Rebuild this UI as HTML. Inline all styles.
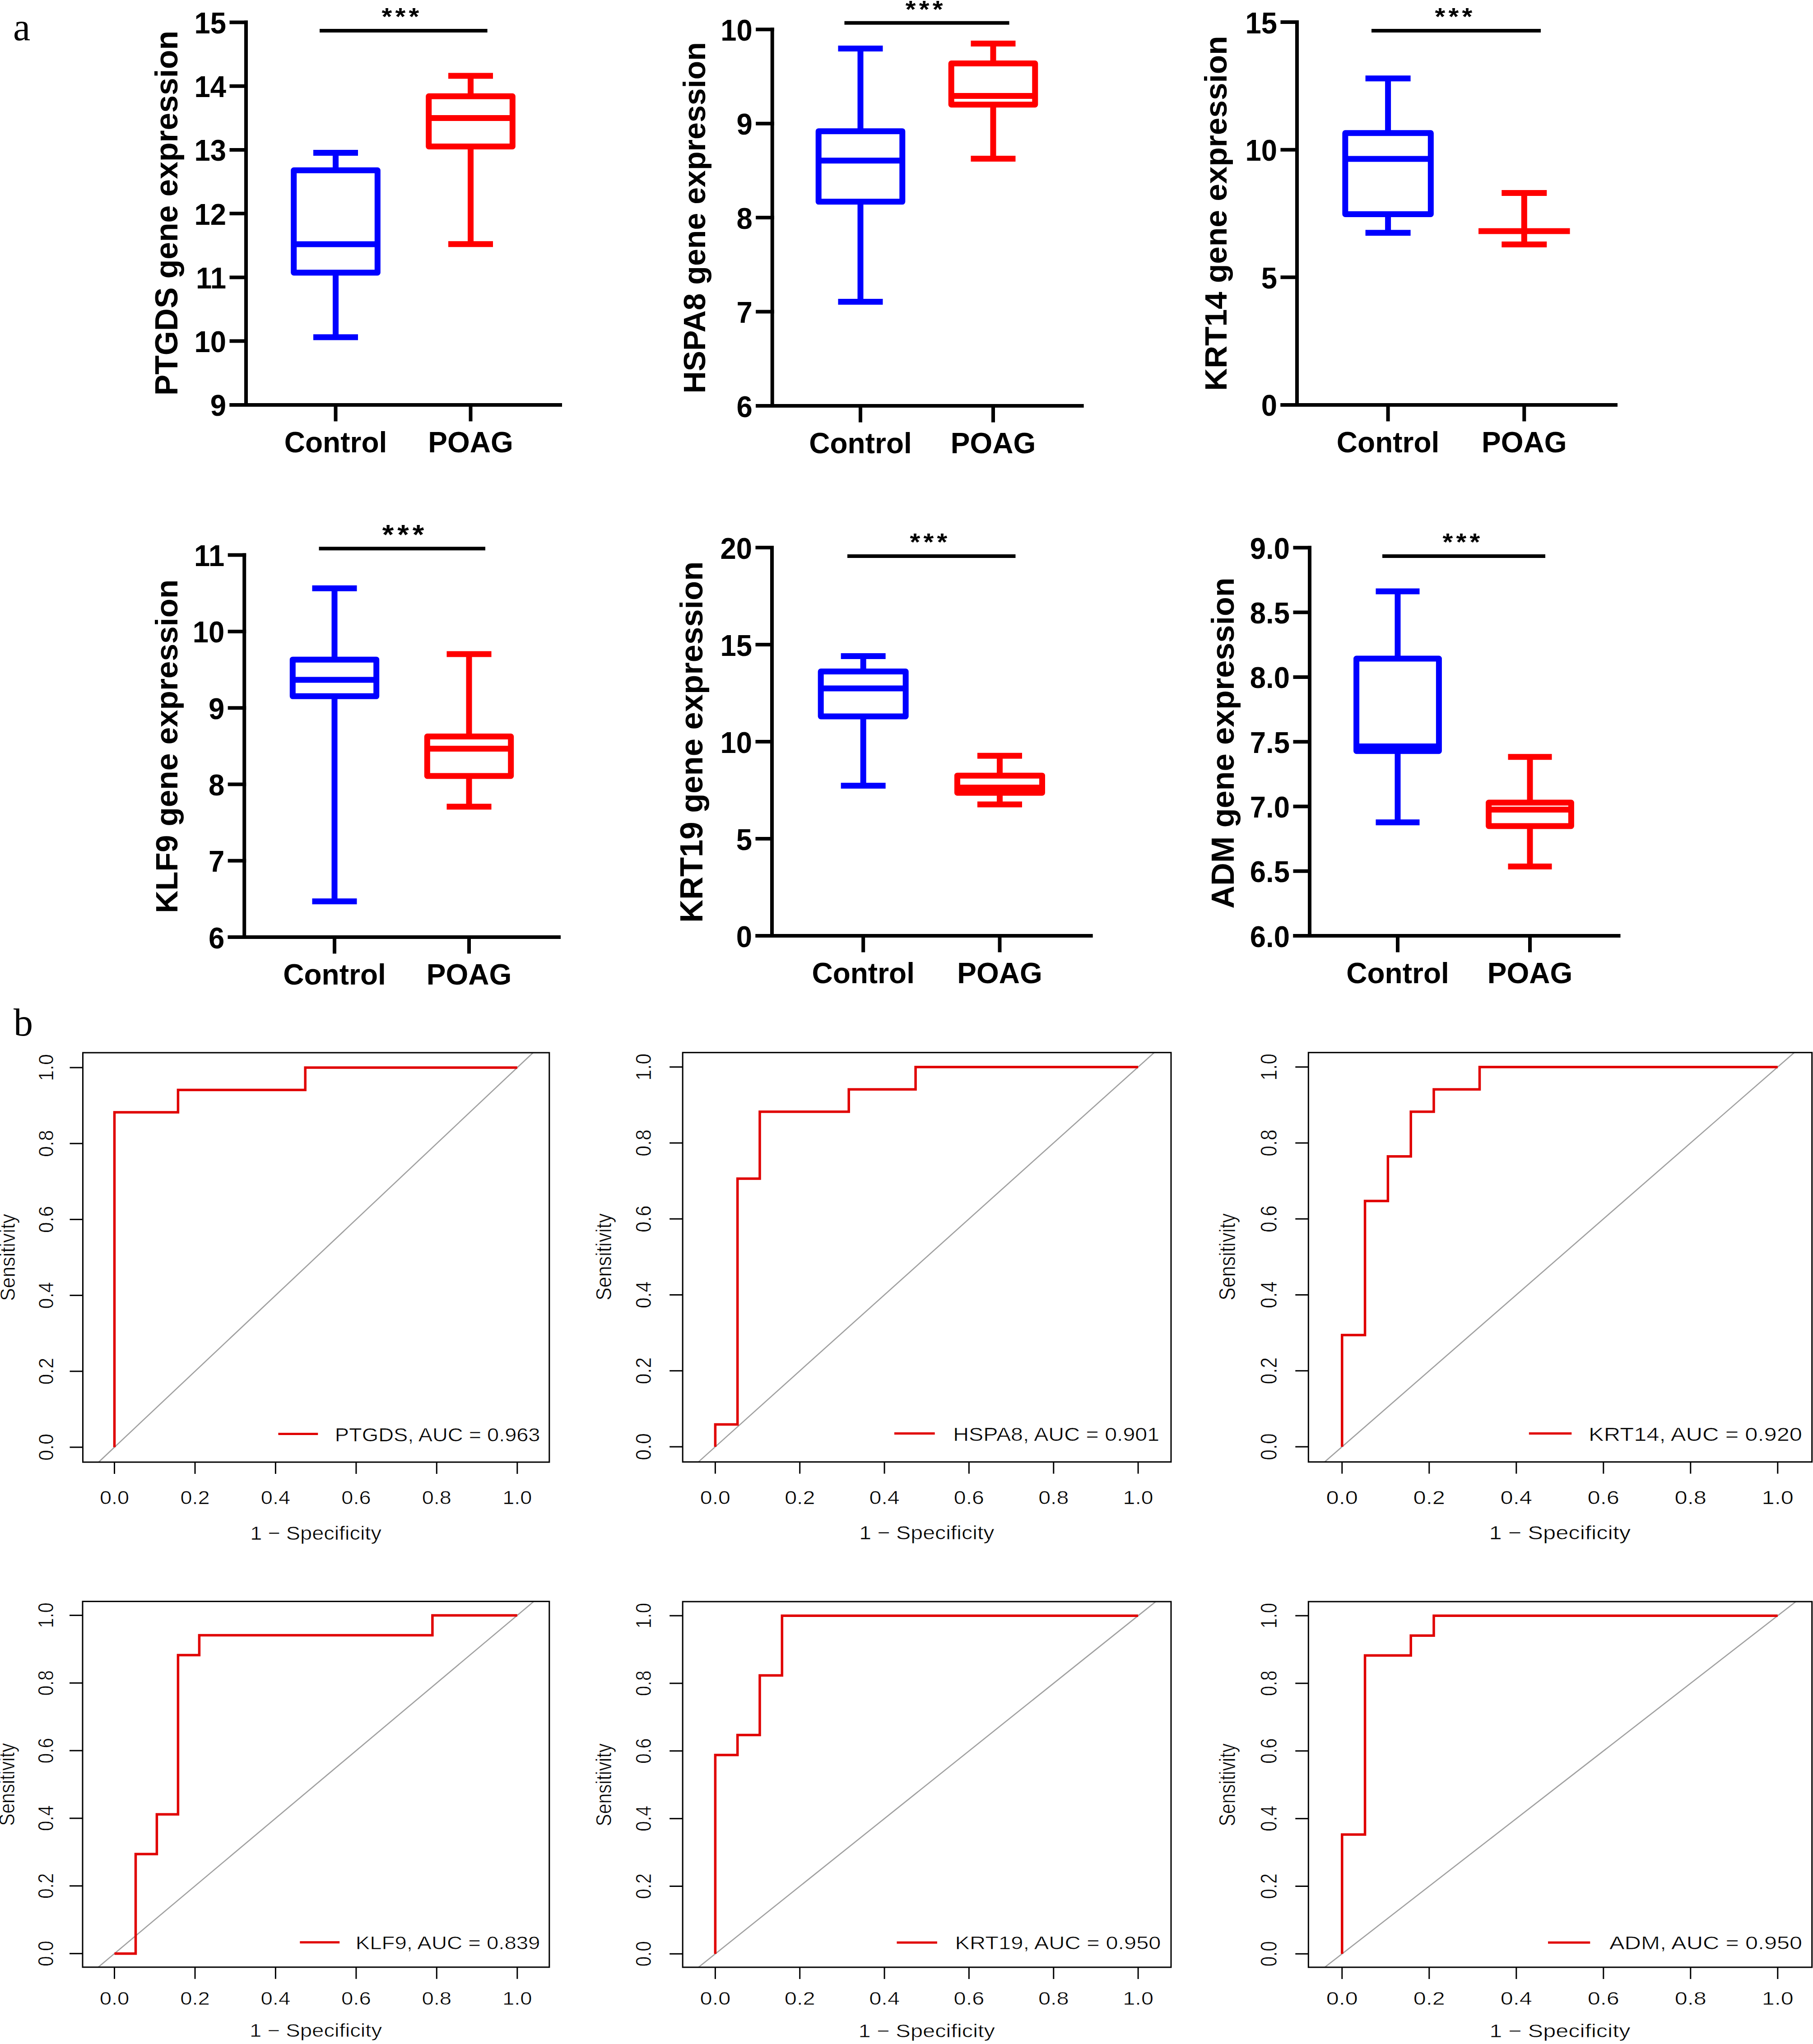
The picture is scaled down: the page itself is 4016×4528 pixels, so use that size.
<!DOCTYPE html><html><head><meta charset="utf-8"><style>html,body{margin:0;padding:0;background:#fff;width:4016px;height:4528px;overflow:hidden}svg{display:block}</style></head><body>
<svg width="4016" height="4528" viewBox="0 0 4016 4528" font-family='"Liberation Sans", sans-serif'>
<style>.rt{stroke:#fff;stroke-width:0.6px}</style>
<rect width="4016" height="4528" fill="#fff"/>
<text x="29" y="89" font-family='"Liberation Serif", serif' font-size="86">a</text>
<text x="30" y="2294" font-family='"Liberation Serif", serif' font-size="86">b</text>
<line x1="545" y1="45.4" x2="545" y2="900.9" stroke="#000" stroke-width="8"/>
<line x1="508.5" y1="896.9" x2="1245" y2="896.9" stroke="#000" stroke-width="8"/>
<line x1="508.5" y1="49.4" x2="549.0" y2="49.4" stroke="#000" stroke-width="8"/>
<text transform="translate(501,73.9) scale(0.94,1)" text-anchor="end" font-size="67.5" font-weight="bold">15</text>
<line x1="508.5" y1="190.7" x2="549.0" y2="190.7" stroke="#000" stroke-width="8"/>
<text transform="translate(501,215.2) scale(0.94,1)" text-anchor="end" font-size="67.5" font-weight="bold">14</text>
<line x1="508.5" y1="331.9" x2="549.0" y2="331.9" stroke="#000" stroke-width="8"/>
<text transform="translate(501,356.4) scale(0.94,1)" text-anchor="end" font-size="67.5" font-weight="bold">13</text>
<line x1="508.5" y1="473.1" x2="549.0" y2="473.1" stroke="#000" stroke-width="8"/>
<text transform="translate(501,497.6) scale(0.94,1)" text-anchor="end" font-size="67.5" font-weight="bold">12</text>
<line x1="508.5" y1="614.4" x2="549.0" y2="614.4" stroke="#000" stroke-width="8"/>
<text transform="translate(501,638.9) scale(0.94,1)" text-anchor="end" font-size="67.5" font-weight="bold">11</text>
<line x1="508.5" y1="755.6" x2="549.0" y2="755.6" stroke="#000" stroke-width="8"/>
<text transform="translate(501,780.1) scale(0.94,1)" text-anchor="end" font-size="67.5" font-weight="bold">10</text>
<line x1="508.5" y1="896.9" x2="549.0" y2="896.9" stroke="#000" stroke-width="8"/>
<text transform="translate(501,921.4) scale(0.94,1)" text-anchor="end" font-size="67.5" font-weight="bold">9</text>
<line x1="743.5" y1="896.9" x2="743.5" y2="933.4" stroke="#000" stroke-width="8"/>
<text x="743.5" y="1001.9" text-anchor="middle" font-size="64" font-weight="bold">Control</text>
<line x1="1042.5" y1="896.9" x2="1042.5" y2="933.4" stroke="#000" stroke-width="8"/>
<text x="1042.5" y="1001.9" text-anchor="middle" font-size="64" font-weight="bold">POAG</text>
<text transform="translate(392.8,472.1) rotate(-90)" text-anchor="middle" font-size="69.6" font-weight="bold">PTGDS gene expression</text>
<line x1="708" y1="67.9" x2="1079.6" y2="67.9" stroke="#000" stroke-width="8"/>
<text transform="translate(857.0,55.2) scale(0.760,0.700)" text-anchor="middle" font-size="77" font-weight="bold">*</text>
<text transform="translate(887.0,55.2) scale(0.760,0.700)" text-anchor="middle" font-size="77" font-weight="bold">*</text>
<text transform="translate(917.0,55.2) scale(0.760,0.700)" text-anchor="middle" font-size="77" font-weight="bold">*</text>
<g stroke="#0000ff" stroke-width="13" fill="none">
<line x1="694.0" y1="338.5" x2="793.0" y2="338.5"/>
<line x1="694.0" y1="747" x2="793.0" y2="747"/>
<line x1="743.5" y1="338.5" x2="743.5" y2="377.3"/>
<line x1="743.5" y1="604" x2="743.5" y2="747"/>
<rect x="650.7" y="377.3" width="185.5999999999999" height="226.7" stroke-linejoin="round"/>
<line x1="650.7" y1="541" x2="836.3" y2="541"/>
</g>
<g stroke="#ff0000" stroke-width="13" fill="none">
<line x1="993.0" y1="168" x2="1092.0" y2="168"/>
<line x1="993.0" y1="540.7" x2="1092.0" y2="540.7"/>
<line x1="1042.5" y1="168" x2="1042.5" y2="213.3"/>
<line x1="1042.5" y1="324.5" x2="1042.5" y2="540.7"/>
<rect x="949.7" y="213.3" width="185.5999999999999" height="111.2" stroke-linejoin="round"/>
<line x1="949.7" y1="261.5" x2="1135.3" y2="261.5"/>
</g>
<line x1="1710.7" y1="61.2" x2="1710.7" y2="903.1" stroke="#000" stroke-width="8"/>
<line x1="1674.2" y1="899.1" x2="2400.7" y2="899.1" stroke="#000" stroke-width="8"/>
<line x1="1674.2" y1="65.2" x2="1714.7" y2="65.2" stroke="#000" stroke-width="8"/>
<text transform="translate(1666.7,89.7) scale(0.94,1)" text-anchor="end" font-size="67.5" font-weight="bold">10</text>
<line x1="1674.2" y1="273.7" x2="1714.7" y2="273.7" stroke="#000" stroke-width="8"/>
<text transform="translate(1666.7,298.2) scale(0.94,1)" text-anchor="end" font-size="67.5" font-weight="bold">9</text>
<line x1="1674.2" y1="482.1" x2="1714.7" y2="482.1" stroke="#000" stroke-width="8"/>
<text transform="translate(1666.7,506.6) scale(0.94,1)" text-anchor="end" font-size="67.5" font-weight="bold">8</text>
<line x1="1674.2" y1="690.6" x2="1714.7" y2="690.6" stroke="#000" stroke-width="8"/>
<text transform="translate(1666.7,715.1) scale(0.94,1)" text-anchor="end" font-size="67.5" font-weight="bold">7</text>
<line x1="1674.2" y1="899.1" x2="1714.7" y2="899.1" stroke="#000" stroke-width="8"/>
<text transform="translate(1666.7,923.6) scale(0.94,1)" text-anchor="end" font-size="67.5" font-weight="bold">6</text>
<line x1="1906" y1="899.1" x2="1906" y2="935.6" stroke="#000" stroke-width="8"/>
<text x="1906" y="1004.1" text-anchor="middle" font-size="64" font-weight="bold">Control</text>
<line x1="2200" y1="899.1" x2="2200" y2="935.6" stroke="#000" stroke-width="8"/>
<text x="2200" y="1004.1" text-anchor="middle" font-size="64" font-weight="bold">POAG</text>
<text transform="translate(1561.7,482.4) rotate(-90)" text-anchor="middle" font-size="68.1" font-weight="bold">HSPA8 gene expression</text>
<line x1="1870.5" y1="50.7" x2="2235.6" y2="50.7" stroke="#000" stroke-width="8"/>
<text transform="translate(2017.2,39.0) scale(0.760,0.700)" text-anchor="middle" font-size="77" font-weight="bold">*</text>
<text transform="translate(2047.2,39.0) scale(0.760,0.700)" text-anchor="middle" font-size="77" font-weight="bold">*</text>
<text transform="translate(2077.2,39.0) scale(0.760,0.700)" text-anchor="middle" font-size="77" font-weight="bold">*</text>
<g stroke="#0000ff" stroke-width="13" fill="none">
<line x1="1856.5" y1="107.6" x2="1955.5" y2="107.6"/>
<line x1="1856.5" y1="668.5" x2="1955.5" y2="668.5"/>
<line x1="1906" y1="107.6" x2="1906" y2="290.7"/>
<line x1="1906" y1="446.8" x2="1906" y2="668.5"/>
<rect x="1813.2" y="290.7" width="185.5999999999999" height="156.1" stroke-linejoin="round"/>
<line x1="1813.2" y1="355.8" x2="1998.8" y2="355.8"/>
</g>
<g stroke="#ff0000" stroke-width="13" fill="none">
<line x1="2150.5" y1="96.5" x2="2249.5" y2="96.5"/>
<line x1="2150.5" y1="351.4" x2="2249.5" y2="351.4"/>
<line x1="2200" y1="96.5" x2="2200" y2="140.6"/>
<line x1="2200" y1="231.7" x2="2200" y2="351.4"/>
<rect x="2107.2" y="140.6" width="185.60000000000036" height="91.1" stroke-linejoin="round"/>
<line x1="2107.2" y1="212.4" x2="2292.8" y2="212.4"/>
</g>
<line x1="2873" y1="45.1" x2="2873" y2="900.9" stroke="#000" stroke-width="8"/>
<line x1="2836.5" y1="896.9" x2="3583" y2="896.9" stroke="#000" stroke-width="8"/>
<line x1="2836.5" y1="49.1" x2="2877.0" y2="49.1" stroke="#000" stroke-width="8"/>
<text transform="translate(2829,73.6) scale(0.94,1)" text-anchor="end" font-size="67.5" font-weight="bold">15</text>
<line x1="2836.5" y1="331.7" x2="2877.0" y2="331.7" stroke="#000" stroke-width="8"/>
<text transform="translate(2829,356.2) scale(0.94,1)" text-anchor="end" font-size="67.5" font-weight="bold">10</text>
<line x1="2836.5" y1="614.3" x2="2877.0" y2="614.3" stroke="#000" stroke-width="8"/>
<text transform="translate(2829,638.8) scale(0.94,1)" text-anchor="end" font-size="67.5" font-weight="bold">5</text>
<line x1="2836.5" y1="896.9" x2="2877.0" y2="896.9" stroke="#000" stroke-width="8"/>
<text transform="translate(2829,921.4) scale(0.94,1)" text-anchor="end" font-size="67.5" font-weight="bold">0</text>
<line x1="3074.6" y1="896.9" x2="3074.6" y2="933.4" stroke="#000" stroke-width="8"/>
<text x="3074.6" y="1001.9" text-anchor="middle" font-size="64" font-weight="bold">Control</text>
<line x1="3376.3" y1="896.9" x2="3376.3" y2="933.4" stroke="#000" stroke-width="8"/>
<text x="3376.3" y="1001.9" text-anchor="middle" font-size="64" font-weight="bold">POAG</text>
<text transform="translate(2717.3,472.75) rotate(-90)" text-anchor="middle" font-size="69.4" font-weight="bold">KRT14 gene expression</text>
<line x1="3038" y1="68" x2="3413" y2="68" stroke="#000" stroke-width="8"/>
<text transform="translate(3189.9,55.2) scale(0.760,0.700)" text-anchor="middle" font-size="77" font-weight="bold">*</text>
<text transform="translate(3219.9,55.2) scale(0.760,0.700)" text-anchor="middle" font-size="77" font-weight="bold">*</text>
<text transform="translate(3249.9,55.2) scale(0.760,0.700)" text-anchor="middle" font-size="77" font-weight="bold">*</text>
<g stroke="#0000ff" stroke-width="13" fill="none">
<line x1="3024.6" y1="173.7" x2="3124.6" y2="173.7"/>
<line x1="3024.6" y1="515.7" x2="3124.6" y2="515.7"/>
<line x1="3074.6" y1="173.7" x2="3074.6" y2="294.8"/>
<line x1="3074.6" y1="474.4" x2="3074.6" y2="515.7"/>
<rect x="2979.85" y="294.8" width="189.5" height="179.6" stroke-linejoin="round"/>
<line x1="2979.85" y1="352" x2="3169.35" y2="352"/>
</g>
<g stroke="#ff0000" stroke-width="13" fill="none">
<line x1="3326.3" y1="427.5" x2="3426.3" y2="427.5"/>
<line x1="3326.3" y1="541.6" x2="3426.3" y2="541.6"/>
<line x1="3376.3" y1="427.5" x2="3376.3" y2="512"/>
<line x1="3376.3" y1="512" x2="3376.3" y2="541.6"/>
<line x1="3275.05" y1="512" x2="3477.55" y2="512"/>
</g>
<line x1="541.2" y1="1225.6" x2="541.2" y2="2080.0" stroke="#000" stroke-width="8"/>
<line x1="504.70000000000005" y1="2076" x2="1242" y2="2076" stroke="#000" stroke-width="8"/>
<line x1="504.70000000000005" y1="1229.6" x2="545.2" y2="1229.6" stroke="#000" stroke-width="8"/>
<text transform="translate(497.20000000000005,1254.1) scale(0.94,1)" text-anchor="end" font-size="67.5" font-weight="bold">11</text>
<line x1="504.70000000000005" y1="1398.9" x2="545.2" y2="1398.9" stroke="#000" stroke-width="8"/>
<text transform="translate(497.20000000000005,1423.4) scale(0.94,1)" text-anchor="end" font-size="67.5" font-weight="bold">10</text>
<line x1="504.70000000000005" y1="1568.2" x2="545.2" y2="1568.2" stroke="#000" stroke-width="8"/>
<text transform="translate(497.20000000000005,1592.7) scale(0.94,1)" text-anchor="end" font-size="67.5" font-weight="bold">9</text>
<line x1="504.70000000000005" y1="1737.4" x2="545.2" y2="1737.4" stroke="#000" stroke-width="8"/>
<text transform="translate(497.20000000000005,1761.9) scale(0.94,1)" text-anchor="end" font-size="67.5" font-weight="bold">8</text>
<line x1="504.70000000000005" y1="1906.7" x2="545.2" y2="1906.7" stroke="#000" stroke-width="8"/>
<text transform="translate(497.20000000000005,1931.2) scale(0.94,1)" text-anchor="end" font-size="67.5" font-weight="bold">7</text>
<line x1="504.70000000000005" y1="2076.0" x2="545.2" y2="2076.0" stroke="#000" stroke-width="8"/>
<text transform="translate(497.20000000000005,2100.5) scale(0.94,1)" text-anchor="end" font-size="67.5" font-weight="bold">6</text>
<line x1="741" y1="2076" x2="741" y2="2112.5" stroke="#000" stroke-width="8"/>
<text x="741" y="2181" text-anchor="middle" font-size="64" font-weight="bold">Control</text>
<line x1="1039" y1="2076" x2="1039" y2="2112.5" stroke="#000" stroke-width="8"/>
<text x="1039" y="2181" text-anchor="middle" font-size="64" font-weight="bold">POAG</text>
<text transform="translate(393.4,1653.3) rotate(-90)" text-anchor="middle" font-size="69.3" font-weight="bold">KLF9 gene expression</text>
<line x1="706.5" y1="1215.3" x2="1075" y2="1215.3" stroke="#000" stroke-width="8"/>
<text transform="translate(859.4,1204.9) scale(0.851,0.784)" text-anchor="middle" font-size="77" font-weight="bold">*</text>
<text transform="translate(893.0,1204.9) scale(0.851,0.784)" text-anchor="middle" font-size="77" font-weight="bold">*</text>
<text transform="translate(926.6,1204.9) scale(0.851,0.784)" text-anchor="middle" font-size="77" font-weight="bold">*</text>
<g stroke="#0000ff" stroke-width="13" fill="none">
<line x1="691.5" y1="1303.3" x2="790.5" y2="1303.3"/>
<line x1="691.5" y1="1996.7" x2="790.5" y2="1996.7"/>
<line x1="741" y1="1303.3" x2="741" y2="1461.2"/>
<line x1="741" y1="1542.3" x2="741" y2="1996.7"/>
<rect x="648.3" y="1461.2" width="185.4000000000001" height="81.1" stroke-linejoin="round"/>
<line x1="648.3" y1="1505.9" x2="833.7" y2="1505.9"/>
</g>
<g stroke="#ff0000" stroke-width="13" fill="none">
<line x1="989.5" y1="1448.9" x2="1088.5" y2="1448.9"/>
<line x1="989.5" y1="1787" x2="1088.5" y2="1787"/>
<line x1="1039" y1="1448.9" x2="1039" y2="1631.5"/>
<line x1="1039" y1="1719" x2="1039" y2="1787"/>
<rect x="946.3" y="1631.5" width="185.4000000000001" height="87.5" stroke-linejoin="round"/>
<line x1="946.3" y1="1658.5" x2="1131.7" y2="1658.5"/>
</g>
<line x1="1710" y1="1209.0" x2="1710" y2="2077.0" stroke="#000" stroke-width="8"/>
<line x1="1673.5" y1="2073" x2="2420.7" y2="2073" stroke="#000" stroke-width="8"/>
<line x1="1673.5" y1="1213.0" x2="1714.0" y2="1213.0" stroke="#000" stroke-width="8"/>
<text transform="translate(1666,1237.5) scale(0.94,1)" text-anchor="end" font-size="67.5" font-weight="bold">20</text>
<line x1="1673.5" y1="1428.0" x2="1714.0" y2="1428.0" stroke="#000" stroke-width="8"/>
<text transform="translate(1666,1452.5) scale(0.94,1)" text-anchor="end" font-size="67.5" font-weight="bold">15</text>
<line x1="1673.5" y1="1643.0" x2="1714.0" y2="1643.0" stroke="#000" stroke-width="8"/>
<text transform="translate(1666,1667.5) scale(0.94,1)" text-anchor="end" font-size="67.5" font-weight="bold">10</text>
<line x1="1673.5" y1="1858.0" x2="1714.0" y2="1858.0" stroke="#000" stroke-width="8"/>
<text transform="translate(1666,1882.5) scale(0.94,1)" text-anchor="end" font-size="67.5" font-weight="bold">5</text>
<line x1="1673.5" y1="2073.0" x2="1714.0" y2="2073.0" stroke="#000" stroke-width="8"/>
<text transform="translate(1666,2097.5) scale(0.94,1)" text-anchor="end" font-size="67.5" font-weight="bold">0</text>
<line x1="1912.2" y1="2073" x2="1912.2" y2="2109.5" stroke="#000" stroke-width="8"/>
<text x="1912.2" y="2178" text-anchor="middle" font-size="64" font-weight="bold">Control</text>
<line x1="2214.5" y1="2073" x2="2214.5" y2="2109.5" stroke="#000" stroke-width="8"/>
<text x="2214.5" y="2178" text-anchor="middle" font-size="64" font-weight="bold">POAG</text>
<text transform="translate(1556.2,1643.9) rotate(-90)" text-anchor="middle" font-size="70.6" font-weight="bold">KRT19 gene expression</text>
<line x1="1877" y1="1232" x2="2249.5" y2="1232" stroke="#000" stroke-width="8"/>
<text transform="translate(2027.0,1218.7) scale(0.760,0.700)" text-anchor="middle" font-size="77" font-weight="bold">*</text>
<text transform="translate(2057.0,1218.7) scale(0.760,0.700)" text-anchor="middle" font-size="77" font-weight="bold">*</text>
<text transform="translate(2087.0,1218.7) scale(0.760,0.700)" text-anchor="middle" font-size="77" font-weight="bold">*</text>
<g stroke="#0000ff" stroke-width="13" fill="none">
<line x1="1862.7" y1="1453.4" x2="1961.7" y2="1453.4"/>
<line x1="1862.7" y1="1740.5" x2="1961.7" y2="1740.5"/>
<line x1="1912.2" y1="1453.4" x2="1912.2" y2="1487.6"/>
<line x1="1912.2" y1="1587" x2="1912.2" y2="1740.5"/>
<rect x="1818.2" y="1487.6" width="188.0" height="99.4" stroke-linejoin="round"/>
<line x1="1818.2" y1="1525" x2="2006.2" y2="1525"/>
</g>
<g stroke="#ff0000" stroke-width="13" fill="none">
<line x1="2165.0" y1="1674.3" x2="2264.0" y2="1674.3"/>
<line x1="2165.0" y1="1782" x2="2264.0" y2="1782"/>
<line x1="2214.5" y1="1674.3" x2="2214.5" y2="1718.2"/>
<line x1="2214.5" y1="1756.2" x2="2214.5" y2="1782"/>
<rect x="2120.5" y="1718.2" width="188.0" height="38.0" stroke-linejoin="round"/>
<line x1="2120.5" y1="1744.8" x2="2308.5" y2="1744.8"/>
</g>
<line x1="2901" y1="1209.3" x2="2901" y2="2077.0" stroke="#000" stroke-width="8"/>
<line x1="2864.5" y1="2073" x2="3589.5" y2="2073" stroke="#000" stroke-width="8"/>
<line x1="2864.5" y1="1213.3" x2="2905.0" y2="1213.3" stroke="#000" stroke-width="8"/>
<text transform="translate(2857,1237.8) scale(0.94,1)" text-anchor="end" font-size="67.5" font-weight="bold">9.0</text>
<line x1="2864.5" y1="1356.6" x2="2905.0" y2="1356.6" stroke="#000" stroke-width="8"/>
<text transform="translate(2857,1381.1) scale(0.94,1)" text-anchor="end" font-size="67.5" font-weight="bold">8.5</text>
<line x1="2864.5" y1="1499.9" x2="2905.0" y2="1499.9" stroke="#000" stroke-width="8"/>
<text transform="translate(2857,1524.4) scale(0.94,1)" text-anchor="end" font-size="67.5" font-weight="bold">8.0</text>
<line x1="2864.5" y1="1643.2" x2="2905.0" y2="1643.2" stroke="#000" stroke-width="8"/>
<text transform="translate(2857,1667.7) scale(0.94,1)" text-anchor="end" font-size="67.5" font-weight="bold">7.5</text>
<line x1="2864.5" y1="1786.4" x2="2905.0" y2="1786.4" stroke="#000" stroke-width="8"/>
<text transform="translate(2857,1810.9) scale(0.94,1)" text-anchor="end" font-size="67.5" font-weight="bold">7.0</text>
<line x1="2864.5" y1="1929.7" x2="2905.0" y2="1929.7" stroke="#000" stroke-width="8"/>
<text transform="translate(2857,1954.2) scale(0.94,1)" text-anchor="end" font-size="67.5" font-weight="bold">6.5</text>
<line x1="2864.5" y1="2073.0" x2="2905.0" y2="2073.0" stroke="#000" stroke-width="8"/>
<text transform="translate(2857,2097.5) scale(0.94,1)" text-anchor="end" font-size="67.5" font-weight="bold">6.0</text>
<line x1="3096" y1="2073" x2="3096" y2="2109.5" stroke="#000" stroke-width="8"/>
<text x="3096" y="2178" text-anchor="middle" font-size="64" font-weight="bold">Control</text>
<line x1="3389" y1="2073" x2="3389" y2="2109.5" stroke="#000" stroke-width="8"/>
<text x="3389" y="2178" text-anchor="middle" font-size="64" font-weight="bold">POAG</text>
<text transform="translate(2732.8,1646) rotate(-90)" text-anchor="middle" font-size="70.2" font-weight="bold">ADM gene expression</text>
<line x1="3062" y1="1232" x2="3423" y2="1232" stroke="#000" stroke-width="8"/>
<text transform="translate(3206.8,1218.7) scale(0.760,0.700)" text-anchor="middle" font-size="77" font-weight="bold">*</text>
<text transform="translate(3236.8,1218.7) scale(0.760,0.700)" text-anchor="middle" font-size="77" font-weight="bold">*</text>
<text transform="translate(3266.8,1218.7) scale(0.760,0.700)" text-anchor="middle" font-size="77" font-weight="bold">*</text>
<g stroke="#0000ff" stroke-width="13" fill="none">
<line x1="3047.5" y1="1310" x2="3144.5" y2="1310"/>
<line x1="3047.5" y1="1821.8" x2="3144.5" y2="1821.8"/>
<line x1="3096" y1="1310" x2="3096" y2="1459"/>
<line x1="3096" y1="1663.7" x2="3096" y2="1821.8"/>
<rect x="3004.6" y="1459" width="182.80000000000018" height="204.7" stroke-linejoin="round"/>
<line x1="3004.6" y1="1653.5" x2="3187.4" y2="1653.5"/>
</g>
<g stroke="#ff0000" stroke-width="13" fill="none">
<line x1="3340.5" y1="1676.8" x2="3437.5" y2="1676.8"/>
<line x1="3340.5" y1="1919.4" x2="3437.5" y2="1919.4"/>
<line x1="3389" y1="1676.8" x2="3389" y2="1778"/>
<line x1="3389" y1="1830" x2="3389" y2="1919.4"/>
<rect x="3297.6" y="1778" width="182.80000000000018" height="52.0" stroke-linejoin="round"/>
<line x1="3297.6" y1="1793.6" x2="3480.4" y2="1793.6"/>
</g>
<line x1="218.5" y1="3239.0" x2="1180.8" y2="2332.0" stroke="#a0a0a0" stroke-width="2.6"/>
<path d="M253.5,3206.0 L253.5,2463.9 L394.4,2463.9 L394.4,2414.5 L676.2,2414.5 L676.2,2365.0 L1145.8,2365.0" fill="none" stroke="#e00000" stroke-width="5.5" stroke-linejoin="miter"/>
<rect x="183.5" y="2332" width="1033.3" height="907.0" fill="none" stroke="#000" stroke-width="3"/>
<line x1="253.5" y1="3239" x2="253.5" y2="3265" stroke="#000" stroke-width="3"/>
<line x1="154.5" y1="3206.0" x2="183.5" y2="3206.0" stroke="#000" stroke-width="3"/>
<text transform="translate(253.5,3332) scale(1.093,1)" text-anchor="middle" font-size="42.9" class="rt">0.0</text>
<text transform="translate(117.5,3206.0) scale(1.093,1) rotate(-90)" text-anchor="middle" font-size="42.9" class="rt">0.0</text>
<line x1="432.0" y1="3239" x2="432.0" y2="3265" stroke="#000" stroke-width="3"/>
<line x1="154.5" y1="3037.8" x2="183.5" y2="3037.8" stroke="#000" stroke-width="3"/>
<text transform="translate(432.0,3332) scale(1.093,1)" text-anchor="middle" font-size="42.9" class="rt">0.2</text>
<text transform="translate(117.5,3037.8) scale(1.093,1) rotate(-90)" text-anchor="middle" font-size="42.9" class="rt">0.2</text>
<line x1="610.4" y1="3239" x2="610.4" y2="3265" stroke="#000" stroke-width="3"/>
<line x1="154.5" y1="2869.6" x2="183.5" y2="2869.6" stroke="#000" stroke-width="3"/>
<text transform="translate(610.4,3332) scale(1.093,1)" text-anchor="middle" font-size="42.9" class="rt">0.4</text>
<text transform="translate(117.5,2869.6) scale(1.093,1) rotate(-90)" text-anchor="middle" font-size="42.9" class="rt">0.4</text>
<line x1="788.9" y1="3239" x2="788.9" y2="3265" stroke="#000" stroke-width="3"/>
<line x1="154.5" y1="2701.4" x2="183.5" y2="2701.4" stroke="#000" stroke-width="3"/>
<text transform="translate(788.9,3332) scale(1.093,1)" text-anchor="middle" font-size="42.9" class="rt">0.6</text>
<text transform="translate(117.5,2701.4) scale(1.093,1) rotate(-90)" text-anchor="middle" font-size="42.9" class="rt">0.6</text>
<line x1="967.3" y1="3239" x2="967.3" y2="3265" stroke="#000" stroke-width="3"/>
<line x1="154.5" y1="2533.2" x2="183.5" y2="2533.2" stroke="#000" stroke-width="3"/>
<text transform="translate(967.3,3332) scale(1.093,1)" text-anchor="middle" font-size="42.9" class="rt">0.8</text>
<text transform="translate(117.5,2533.2) scale(1.093,1) rotate(-90)" text-anchor="middle" font-size="42.9" class="rt">0.8</text>
<line x1="1145.8" y1="3239" x2="1145.8" y2="3265" stroke="#000" stroke-width="3"/>
<line x1="154.5" y1="2365.0" x2="183.5" y2="2365.0" stroke="#000" stroke-width="3"/>
<text transform="translate(1145.8,3332) scale(1.093,1)" text-anchor="middle" font-size="42.9" class="rt">1.0</text>
<text transform="translate(117.5,2365.0) scale(1.093,1) rotate(-90)" text-anchor="middle" font-size="42.9" class="rt">1.0</text>
<text transform="translate(699.6,3410.7) scale(1.093,1)" text-anchor="middle" font-size="42.9" class="rt">1 − Specificity</text>
<text transform="translate(33,2785.5) scale(1.093,1) rotate(-90)" text-anchor="middle" font-size="42.9" class="rt">Sensitivity</text>
<line x1="616.4" y1="3176.4" x2="704.3" y2="3176.4" stroke="#e00000" stroke-width="5"/>
<text transform="translate(1196.4,3192.5) scale(1.093,1)" text-anchor="end" font-size="42.9" class="rt">PTGDS, AUC = 0.963</text>
<line x1="1547.0" y1="3238.6" x2="2556.7" y2="2331.7" stroke="#a0a0a0" stroke-width="2.6"/>
<path d="M1584.4,3205.0 L1584.4,3155.5 L1633.7,3155.5 L1633.7,2611.1 L1683.0,2611.1 L1683.0,2462.7 L1880.2,2462.7 L1880.2,2413.2 L2028.1,2413.2 L2028.1,2363.7 L2521.1,2363.7" fill="none" stroke="#e00000" stroke-width="5.5" stroke-linejoin="miter"/>
<rect x="1512.2" y="2331.7" width="1081.8" height="906.9" fill="none" stroke="#000" stroke-width="3"/>
<line x1="1584.4" y1="3238.6" x2="1584.4" y2="3264.6" stroke="#000" stroke-width="3"/>
<line x1="1483.2" y1="3205.0" x2="1512.2" y2="3205.0" stroke="#000" stroke-width="3"/>
<text transform="translate(1584.4,3331.6) scale(1.126,1)" text-anchor="middle" font-size="42.9" class="rt">0.0</text>
<text transform="translate(1442,3205.0) scale(1.126,1) rotate(-90)" text-anchor="middle" font-size="42.9" class="rt">0.0</text>
<line x1="1771.7" y1="3238.6" x2="1771.7" y2="3264.6" stroke="#000" stroke-width="3"/>
<line x1="1483.2" y1="3036.7" x2="1512.2" y2="3036.7" stroke="#000" stroke-width="3"/>
<text transform="translate(1771.7,3331.6) scale(1.126,1)" text-anchor="middle" font-size="42.9" class="rt">0.2</text>
<text transform="translate(1442,3036.7) scale(1.126,1) rotate(-90)" text-anchor="middle" font-size="42.9" class="rt">0.2</text>
<line x1="1959.1" y1="3238.6" x2="1959.1" y2="3264.6" stroke="#000" stroke-width="3"/>
<line x1="1483.2" y1="2868.5" x2="1512.2" y2="2868.5" stroke="#000" stroke-width="3"/>
<text transform="translate(1959.1,3331.6) scale(1.126,1)" text-anchor="middle" font-size="42.9" class="rt">0.4</text>
<text transform="translate(1442,2868.5) scale(1.126,1) rotate(-90)" text-anchor="middle" font-size="42.9" class="rt">0.4</text>
<line x1="2146.4" y1="3238.6" x2="2146.4" y2="3264.6" stroke="#000" stroke-width="3"/>
<line x1="1483.2" y1="2700.2" x2="1512.2" y2="2700.2" stroke="#000" stroke-width="3"/>
<text transform="translate(2146.4,3331.6) scale(1.126,1)" text-anchor="middle" font-size="42.9" class="rt">0.6</text>
<text transform="translate(1442,2700.2) scale(1.126,1) rotate(-90)" text-anchor="middle" font-size="42.9" class="rt">0.6</text>
<line x1="2333.8" y1="3238.6" x2="2333.8" y2="3264.6" stroke="#000" stroke-width="3"/>
<line x1="1483.2" y1="2532.0" x2="1512.2" y2="2532.0" stroke="#000" stroke-width="3"/>
<text transform="translate(2333.8,3331.6) scale(1.126,1)" text-anchor="middle" font-size="42.9" class="rt">0.8</text>
<text transform="translate(1442,2532.0) scale(1.126,1) rotate(-90)" text-anchor="middle" font-size="42.9" class="rt">0.8</text>
<line x1="2521.1" y1="3238.6" x2="2521.1" y2="3264.6" stroke="#000" stroke-width="3"/>
<line x1="1483.2" y1="2363.7" x2="1512.2" y2="2363.7" stroke="#000" stroke-width="3"/>
<text transform="translate(2521.1,3331.6) scale(1.126,1)" text-anchor="middle" font-size="42.9" class="rt">1.0</text>
<text transform="translate(1442,2363.7) scale(1.126,1) rotate(-90)" text-anchor="middle" font-size="42.9" class="rt">1.0</text>
<text transform="translate(2052.8,3410.2999999999997) scale(1.126,1)" text-anchor="middle" font-size="42.9" class="rt">1 − Specificity</text>
<text transform="translate(1353.5,2784.3) scale(1.126,1) rotate(-90)" text-anchor="middle" font-size="42.9" class="rt">Sensitivity</text>
<line x1="1981" y1="3175.4" x2="2070.7" y2="3175.4" stroke="#e00000" stroke-width="5"/>
<text transform="translate(2568,3191.5) scale(1.126,1)" text-anchor="end" font-size="42.9" class="rt">HSPA8, AUC = 0.901</text>
<line x1="2934.3" y1="3238.6" x2="3974.5" y2="2331.7" stroke="#a0a0a0" stroke-width="2.6"/>
<path d="M2972.8,3205.0 L2972.8,2957.6 L3023.6,2957.6 L3023.6,2660.6 L3074.4,2660.6 L3074.4,2561.7 L3125.2,2561.7 L3125.2,2462.7 L3176.0,2462.7 L3176.0,2413.2 L3277.5,2413.2 L3277.5,2363.7 L3937.8,2363.7" fill="none" stroke="#e00000" stroke-width="5.5" stroke-linejoin="miter"/>
<rect x="2898.3" y="2331.7" width="1115.4" height="906.9" fill="none" stroke="#000" stroke-width="3"/>
<line x1="2972.8" y1="3238.6" x2="2972.8" y2="3264.6" stroke="#000" stroke-width="3"/>
<line x1="2869.3" y1="3205.0" x2="2898.3" y2="3205.0" stroke="#000" stroke-width="3"/>
<text transform="translate(2972.8,3331.6) scale(1.18,1)" text-anchor="middle" font-size="42.9" class="rt">0.0</text>
<text transform="translate(2827.7,3205.0) scale(1.18,1) rotate(-90)" text-anchor="middle" font-size="42.9" class="rt">0.0</text>
<line x1="3165.8" y1="3238.6" x2="3165.8" y2="3264.6" stroke="#000" stroke-width="3"/>
<line x1="2869.3" y1="3036.7" x2="2898.3" y2="3036.7" stroke="#000" stroke-width="3"/>
<text transform="translate(3165.8,3331.6) scale(1.18,1)" text-anchor="middle" font-size="42.9" class="rt">0.2</text>
<text transform="translate(2827.7,3036.7) scale(1.18,1) rotate(-90)" text-anchor="middle" font-size="42.9" class="rt">0.2</text>
<line x1="3358.8" y1="3238.6" x2="3358.8" y2="3264.6" stroke="#000" stroke-width="3"/>
<line x1="2869.3" y1="2868.5" x2="2898.3" y2="2868.5" stroke="#000" stroke-width="3"/>
<text transform="translate(3358.8,3331.6) scale(1.18,1)" text-anchor="middle" font-size="42.9" class="rt">0.4</text>
<text transform="translate(2827.7,2868.5) scale(1.18,1) rotate(-90)" text-anchor="middle" font-size="42.9" class="rt">0.4</text>
<line x1="3551.8" y1="3238.6" x2="3551.8" y2="3264.6" stroke="#000" stroke-width="3"/>
<line x1="2869.3" y1="2700.2" x2="2898.3" y2="2700.2" stroke="#000" stroke-width="3"/>
<text transform="translate(3551.8,3331.6) scale(1.18,1)" text-anchor="middle" font-size="42.9" class="rt">0.6</text>
<text transform="translate(2827.7,2700.2) scale(1.18,1) rotate(-90)" text-anchor="middle" font-size="42.9" class="rt">0.6</text>
<line x1="3744.8" y1="3238.6" x2="3744.8" y2="3264.6" stroke="#000" stroke-width="3"/>
<line x1="2869.3" y1="2532.0" x2="2898.3" y2="2532.0" stroke="#000" stroke-width="3"/>
<text transform="translate(3744.8,3331.6) scale(1.18,1)" text-anchor="middle" font-size="42.9" class="rt">0.8</text>
<text transform="translate(2827.7,2532.0) scale(1.18,1) rotate(-90)" text-anchor="middle" font-size="42.9" class="rt">0.8</text>
<line x1="3937.8" y1="3238.6" x2="3937.8" y2="3264.6" stroke="#000" stroke-width="3"/>
<line x1="2869.3" y1="2363.7" x2="2898.3" y2="2363.7" stroke="#000" stroke-width="3"/>
<text transform="translate(3937.8,3331.6) scale(1.18,1)" text-anchor="middle" font-size="42.9" class="rt">1.0</text>
<text transform="translate(2827.7,2363.7) scale(1.18,1) rotate(-90)" text-anchor="middle" font-size="42.9" class="rt">1.0</text>
<text transform="translate(3455.3,3410.2999999999997) scale(1.18,1)" text-anchor="middle" font-size="42.9" class="rt">1 − Specificity</text>
<text transform="translate(2736.4,2784.3) scale(1.18,1) rotate(-90)" text-anchor="middle" font-size="42.9" class="rt">Sensitivity</text>
<line x1="3386.8" y1="3175.4" x2="3481.3" y2="3175.4" stroke="#e00000" stroke-width="5"/>
<text transform="translate(3992,3191.5) scale(1.18,1)" text-anchor="end" font-size="42.9" class="rt">KRT14, AUC = 0.920</text>
<line x1="217.7" y1="4357.8" x2="1182.5" y2="3547.6" stroke="#a0a0a0" stroke-width="2.6"/>
<path d="M253.5,4327.7 L300.5,4327.7 L300.5,4107.3 L347.4,4107.3 L347.4,4019.2 L394.4,4019.2 L394.4,3666.6 L441.4,3666.6 L441.4,3622.5 L957.9,3622.5 L957.9,3578.4 L1145.8,3578.4" fill="none" stroke="#e00000" stroke-width="5.5" stroke-linejoin="miter"/>
<rect x="183" y="3547.6" width="1033.8" height="810.2" fill="none" stroke="#000" stroke-width="3"/>
<line x1="253.5" y1="4357.8" x2="253.5" y2="4383.8" stroke="#000" stroke-width="3"/>
<line x1="154" y1="4327.7" x2="183" y2="4327.7" stroke="#000" stroke-width="3"/>
<text transform="translate(253.5,4440.8) scale(1.162,1)" text-anchor="middle" font-size="40.7" class="rt">0.0</text>
<text transform="translate(118,4327.7) scale(1.162,1) rotate(-90)" text-anchor="middle" font-size="40.7" class="rt">0.0</text>
<line x1="432.0" y1="4357.8" x2="432.0" y2="4383.8" stroke="#000" stroke-width="3"/>
<line x1="154" y1="4177.8" x2="183" y2="4177.8" stroke="#000" stroke-width="3"/>
<text transform="translate(432.0,4440.8) scale(1.162,1)" text-anchor="middle" font-size="40.7" class="rt">0.2</text>
<text transform="translate(118,4177.8) scale(1.162,1) rotate(-90)" text-anchor="middle" font-size="40.7" class="rt">0.2</text>
<line x1="610.4" y1="4357.8" x2="610.4" y2="4383.8" stroke="#000" stroke-width="3"/>
<line x1="154" y1="4028.0" x2="183" y2="4028.0" stroke="#000" stroke-width="3"/>
<text transform="translate(610.4,4440.8) scale(1.162,1)" text-anchor="middle" font-size="40.7" class="rt">0.4</text>
<text transform="translate(118,4028.0) scale(1.162,1) rotate(-90)" text-anchor="middle" font-size="40.7" class="rt">0.4</text>
<line x1="788.9" y1="4357.8" x2="788.9" y2="4383.8" stroke="#000" stroke-width="3"/>
<line x1="154" y1="3878.1" x2="183" y2="3878.1" stroke="#000" stroke-width="3"/>
<text transform="translate(788.9,4440.8) scale(1.162,1)" text-anchor="middle" font-size="40.7" class="rt">0.6</text>
<text transform="translate(118,3878.1) scale(1.162,1) rotate(-90)" text-anchor="middle" font-size="40.7" class="rt">0.6</text>
<line x1="967.3" y1="4357.8" x2="967.3" y2="4383.8" stroke="#000" stroke-width="3"/>
<line x1="154" y1="3728.3" x2="183" y2="3728.3" stroke="#000" stroke-width="3"/>
<text transform="translate(967.3,4440.8) scale(1.162,1)" text-anchor="middle" font-size="40.7" class="rt">0.8</text>
<text transform="translate(118,3728.3) scale(1.162,1) rotate(-90)" text-anchor="middle" font-size="40.7" class="rt">0.8</text>
<line x1="1145.8" y1="4357.8" x2="1145.8" y2="4383.8" stroke="#000" stroke-width="3"/>
<line x1="154" y1="3578.4" x2="183" y2="3578.4" stroke="#000" stroke-width="3"/>
<text transform="translate(1145.8,4440.8) scale(1.162,1)" text-anchor="middle" font-size="40.7" class="rt">1.0</text>
<text transform="translate(118,3578.4) scale(1.162,1) rotate(-90)" text-anchor="middle" font-size="40.7" class="rt">1.0</text>
<text transform="translate(699.6,4512.3) scale(1.162,1)" text-anchor="middle" font-size="40.7" class="rt">1 − Specificity</text>
<text transform="translate(32,3953.1) scale(1.162,1) rotate(-90)" text-anchor="middle" font-size="40.7" class="rt">Sensitivity</text>
<line x1="664.3" y1="4302.7" x2="752.2" y2="4302.7" stroke="#e00000" stroke-width="5"/>
<text transform="translate(1196.4,4317.5) scale(1.162,1)" text-anchor="end" font-size="40.7" class="rt">KLF9, AUC = 0.839</text>
<line x1="1547.3" y1="4358.0" x2="2560.1" y2="3548.0" stroke="#a0a0a0" stroke-width="2.6"/>
<path d="M1584.4,4328.3 L1584.4,3887.7 L1633.7,3887.7 L1633.7,3843.6 L1683.0,3843.6 L1683.0,3711.4 L1732.3,3711.4 L1732.3,3579.2 L2521.1,3579.2" fill="none" stroke="#e00000" stroke-width="5.5" stroke-linejoin="miter"/>
<rect x="1512.2" y="3548" width="1081.8" height="810.0" fill="none" stroke="#000" stroke-width="3"/>
<line x1="1584.4" y1="4358" x2="1584.4" y2="4384" stroke="#000" stroke-width="3"/>
<line x1="1483.2" y1="4328.3" x2="1512.2" y2="4328.3" stroke="#000" stroke-width="3"/>
<text transform="translate(1584.4,4441) scale(1.199,1)" text-anchor="middle" font-size="40.7" class="rt">0.0</text>
<text transform="translate(1442,4328.3) scale(1.199,1) rotate(-90)" text-anchor="middle" font-size="40.7" class="rt">0.0</text>
<line x1="1771.7" y1="4358" x2="1771.7" y2="4384" stroke="#000" stroke-width="3"/>
<line x1="1483.2" y1="4178.5" x2="1512.2" y2="4178.5" stroke="#000" stroke-width="3"/>
<text transform="translate(1771.7,4441) scale(1.199,1)" text-anchor="middle" font-size="40.7" class="rt">0.2</text>
<text transform="translate(1442,4178.5) scale(1.199,1) rotate(-90)" text-anchor="middle" font-size="40.7" class="rt">0.2</text>
<line x1="1959.1" y1="4358" x2="1959.1" y2="4384" stroke="#000" stroke-width="3"/>
<line x1="1483.2" y1="4028.7" x2="1512.2" y2="4028.7" stroke="#000" stroke-width="3"/>
<text transform="translate(1959.1,4441) scale(1.199,1)" text-anchor="middle" font-size="40.7" class="rt">0.4</text>
<text transform="translate(1442,4028.7) scale(1.199,1) rotate(-90)" text-anchor="middle" font-size="40.7" class="rt">0.4</text>
<line x1="2146.4" y1="4358" x2="2146.4" y2="4384" stroke="#000" stroke-width="3"/>
<line x1="1483.2" y1="3878.8" x2="1512.2" y2="3878.8" stroke="#000" stroke-width="3"/>
<text transform="translate(2146.4,4441) scale(1.199,1)" text-anchor="middle" font-size="40.7" class="rt">0.6</text>
<text transform="translate(1442,3878.8) scale(1.199,1) rotate(-90)" text-anchor="middle" font-size="40.7" class="rt">0.6</text>
<line x1="2333.8" y1="4358" x2="2333.8" y2="4384" stroke="#000" stroke-width="3"/>
<line x1="1483.2" y1="3729.0" x2="1512.2" y2="3729.0" stroke="#000" stroke-width="3"/>
<text transform="translate(2333.8,4441) scale(1.199,1)" text-anchor="middle" font-size="40.7" class="rt">0.8</text>
<text transform="translate(1442,3729.0) scale(1.199,1) rotate(-90)" text-anchor="middle" font-size="40.7" class="rt">0.8</text>
<line x1="2521.1" y1="4358" x2="2521.1" y2="4384" stroke="#000" stroke-width="3"/>
<line x1="1483.2" y1="3579.2" x2="1512.2" y2="3579.2" stroke="#000" stroke-width="3"/>
<text transform="translate(2521.1,4441) scale(1.199,1)" text-anchor="middle" font-size="40.7" class="rt">1.0</text>
<text transform="translate(1442,3579.2) scale(1.199,1) rotate(-90)" text-anchor="middle" font-size="40.7" class="rt">1.0</text>
<text transform="translate(2052.8,4512.5) scale(1.199,1)" text-anchor="middle" font-size="40.7" class="rt">1 − Specificity</text>
<text transform="translate(1353.5,3953.8) scale(1.199,1) rotate(-90)" text-anchor="middle" font-size="40.7" class="rt">Sensitivity</text>
<line x1="1986.5" y1="4303.3" x2="2075.9" y2="4303.3" stroke="#e00000" stroke-width="5"/>
<text transform="translate(2571.5,4318.1) scale(1.199,1)" text-anchor="end" font-size="40.7" class="rt">KRT19, AUC = 0.950</text>
<line x1="2934.5" y1="4358.0" x2="3978.0" y2="3548.0" stroke="#a0a0a0" stroke-width="2.6"/>
<path d="M2972.8,4328.3 L2972.8,4063.9 L3023.6,4063.9 L3023.6,3667.3 L3125.2,3667.3 L3125.2,3623.3 L3176.0,3623.3 L3176.0,3579.2 L3937.8,3579.2" fill="none" stroke="#e00000" stroke-width="5.5" stroke-linejoin="miter"/>
<rect x="2898.3" y="3548" width="1115.4" height="810.0" fill="none" stroke="#000" stroke-width="3"/>
<line x1="2972.8" y1="4358" x2="2972.8" y2="4384" stroke="#000" stroke-width="3"/>
<line x1="2869.3" y1="4328.3" x2="2898.3" y2="4328.3" stroke="#000" stroke-width="3"/>
<text transform="translate(2972.8,4441) scale(1.238,1)" text-anchor="middle" font-size="40.7" class="rt">0.0</text>
<text transform="translate(2827.7,4328.3) scale(1.238,1) rotate(-90)" text-anchor="middle" font-size="40.7" class="rt">0.0</text>
<line x1="3165.8" y1="4358" x2="3165.8" y2="4384" stroke="#000" stroke-width="3"/>
<line x1="2869.3" y1="4178.5" x2="2898.3" y2="4178.5" stroke="#000" stroke-width="3"/>
<text transform="translate(3165.8,4441) scale(1.238,1)" text-anchor="middle" font-size="40.7" class="rt">0.2</text>
<text transform="translate(2827.7,4178.5) scale(1.238,1) rotate(-90)" text-anchor="middle" font-size="40.7" class="rt">0.2</text>
<line x1="3358.8" y1="4358" x2="3358.8" y2="4384" stroke="#000" stroke-width="3"/>
<line x1="2869.3" y1="4028.7" x2="2898.3" y2="4028.7" stroke="#000" stroke-width="3"/>
<text transform="translate(3358.8,4441) scale(1.238,1)" text-anchor="middle" font-size="40.7" class="rt">0.4</text>
<text transform="translate(2827.7,4028.7) scale(1.238,1) rotate(-90)" text-anchor="middle" font-size="40.7" class="rt">0.4</text>
<line x1="3551.8" y1="4358" x2="3551.8" y2="4384" stroke="#000" stroke-width="3"/>
<line x1="2869.3" y1="3878.8" x2="2898.3" y2="3878.8" stroke="#000" stroke-width="3"/>
<text transform="translate(3551.8,4441) scale(1.238,1)" text-anchor="middle" font-size="40.7" class="rt">0.6</text>
<text transform="translate(2827.7,3878.8) scale(1.238,1) rotate(-90)" text-anchor="middle" font-size="40.7" class="rt">0.6</text>
<line x1="3744.8" y1="4358" x2="3744.8" y2="4384" stroke="#000" stroke-width="3"/>
<line x1="2869.3" y1="3729.0" x2="2898.3" y2="3729.0" stroke="#000" stroke-width="3"/>
<text transform="translate(3744.8,4441) scale(1.238,1)" text-anchor="middle" font-size="40.7" class="rt">0.8</text>
<text transform="translate(2827.7,3729.0) scale(1.238,1) rotate(-90)" text-anchor="middle" font-size="40.7" class="rt">0.8</text>
<line x1="3937.8" y1="4358" x2="3937.8" y2="4384" stroke="#000" stroke-width="3"/>
<line x1="2869.3" y1="3579.2" x2="2898.3" y2="3579.2" stroke="#000" stroke-width="3"/>
<text transform="translate(3937.8,4441) scale(1.238,1)" text-anchor="middle" font-size="40.7" class="rt">1.0</text>
<text transform="translate(2827.7,3579.2) scale(1.238,1) rotate(-90)" text-anchor="middle" font-size="40.7" class="rt">1.0</text>
<text transform="translate(3455.3,4512.5) scale(1.238,1)" text-anchor="middle" font-size="40.7" class="rt">1 − Specificity</text>
<text transform="translate(2736.4,3953.8) scale(1.238,1) rotate(-90)" text-anchor="middle" font-size="40.7" class="rt">Sensitivity</text>
<line x1="3429" y1="4303.3" x2="3522.3" y2="4303.3" stroke="#e00000" stroke-width="5"/>
<text transform="translate(3992,4318.1) scale(1.238,1)" text-anchor="end" font-size="40.7" class="rt">ADM, AUC = 0.950</text>
</svg></body></html>
